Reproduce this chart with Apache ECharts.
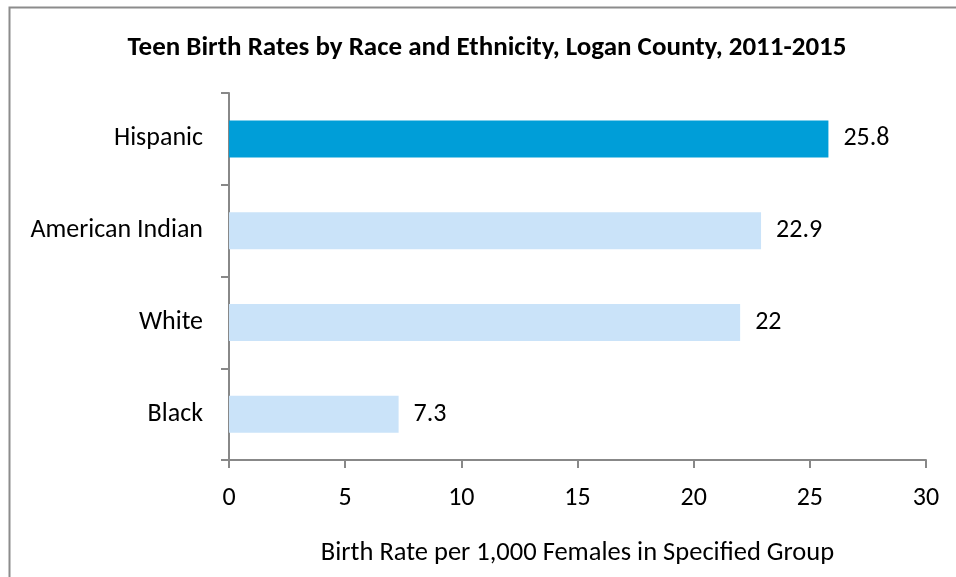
<!DOCTYPE html>
<html>
<head>
<meta charset="utf-8">
<script src="https://cdn.jsdelivr.net/npm/echarts@6/dist/echarts.min.js"></script>
<style>
  html, body { margin: 0; padding: 0; background: #fff; }
  #chart { width: 956px; height: 577px; }
</style>
</head>
<body>
<div id="chart"></div>
<script>
const categories = ['Black', 'White', 'American Indian', 'Hispanic']
const rates = [7.3, 22, 22.9, 25.8]
const highlight = 'Hispanic'

const font = 'Carlito, Lato, sans-serif'
const chart = echarts.init(document.getElementById('chart'))

const option = {
  backgroundColor: '#fff',
  animation: false,
  title: {
    text: 'Teen Birth Rates by Race and Ethnicity, Logan County, 2011-2015',
    left: 482,
    textAlign: 'center',
    top: 30,
    textStyle: { fontFamily: font, fontWeight: 'bold', fontSize: 27, color: '#000' }
  },
  graphic: [{
    type: 'rect',
    shape: { x: 9.5, y: 7.5, width: 1000, height: 1000 },
    style: { fill: 'none', stroke: '#8c8c8c', lineWidth: 2 },
    silent: true
  }],
  grid: { left: 229, right: 30, top: 93, bottom: 117 },
  xAxis: {
    type: 'value',
    min: 0,
    max: 30,
    interval: 5,
    name: 'Birth Rate per 1,000 Females in Specified Group',
    nameLocation: 'middle',
    nameGap: 80,
    nameTextStyle: { fontFamily: font, fontSize: 26.5, color: '#000' },
    axisLine: { show: true, lineStyle: { color: '#888', width: 2 } },
    axisTick: { show: true, length: 8, lineStyle: { color: '#888', width: 2 } },
    axisLabel: { fontFamily: font, fontSize: 26, color: '#000', margin: 25 },
    splitLine: { show: false }
  },
  yAxis: {
    type: 'category',
    data: categories,
    axisLine: { show: true, lineStyle: { color: '#888', width: 2 } },
    axisTick: { show: true, length: 8, lineStyle: { color: '#888', width: 2 } },
    axisLabel: { fontFamily: font, fontSize: 26, color: '#000', margin: 26, padding: [6, 0, 0, 0] }
  },
  series: [{
    type: 'bar',
    barWidth: 37,
    data: rates.map((v, i) => ({
      value: v,
      itemStyle: { color: categories[i] === highlight ? '#009ED8' : '#CAE3F9' }
    })),
    label: {
      show: true,
      position: 'right',
      distance: 15,
      padding: [6, 0, 0, 0],
      fontFamily: font,
      fontSize: 26,
      color: '#000'
    }
  }]
}
option && chart.setOption(option)
</script>
</body>
</html>
